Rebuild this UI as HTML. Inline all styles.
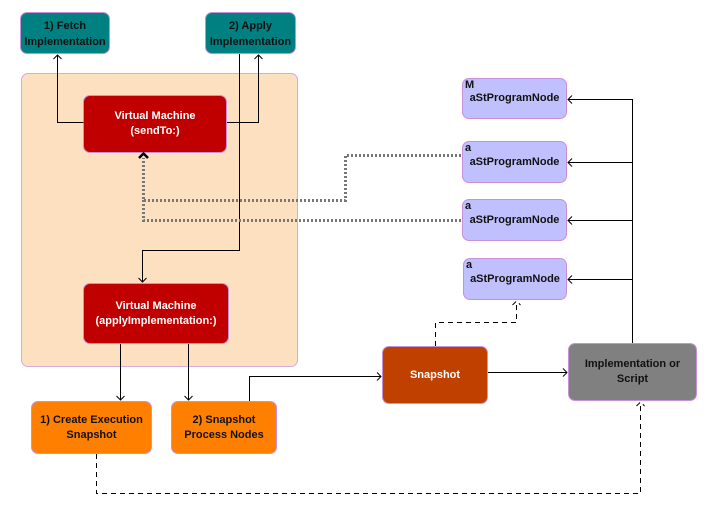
<!DOCTYPE html>
<html><head><style>
body{margin:0;width:709px;height:510px;background:#fff;position:relative;font-family:"Liberation Sans",sans-serif;font-weight:bold;font-size:11px;overflow:hidden}
.b{position:absolute;display:flex;align-items:center;justify-content:center;text-align:center;border:1px solid #c890d8;border-radius:7px;box-sizing:border-box;line-height:15px}
.t{background:#008080;color:#111;line-height:16px;padding-top:2px}
.r{background:#c00000;color:#fff}
.o{background:#ff8000;color:#111}
.n{background:#c0c0ff;color:#111;font-size:11px}
.n i{position:absolute;left:2px;top:-1px;font-style:normal;font-size:11px}
svg{position:absolute;left:0;top:0}
</style></head><body>
<div class="b" style="left:21px;top:73px;width:277px;height:294px;background:#fde0c0;border-color:#d8a8e0"></div>
<div class="b t" style="left:20px;top:12px;width:90px;height:42px">1) Fetch<br>Implementation</div>
<div class="b t" style="left:205px;top:12px;width:91px;height:42px">2) Apply<br>Implementation</div>
<div class="b r" style="left:83px;top:95px;width:144px;height:58px">Virtual Machine<br>(sendTo:)</div>
<div class="b r" style="left:83px;top:283px;width:146px;height:61px">Virtual Machine<br>(applyImplementation:)</div>
<div class="b o" style="left:31px;top:401px;width:121px;height:53px">1) Create Execution<br>Snapshot</div>
<div class="b o" style="left:171px;top:401px;width:106px;height:53px">2) Snapshot<br>Process Nodes</div>
<div class="b" style="left:382px;top:346px;width:106px;height:58px;background:#c04000;color:#fff">Snapshot</div>
<div class="b" style="left:568px;top:343px;width:129px;height:58px;background:#808080;color:#111">Implementation or<br>Script</div>
<div class="b n" style="left:462px;top:78px;width:105px;height:41px"><i>M</i>aStProgramNode</div>
<div class="b n" style="left:462px;top:141px;width:105px;height:42px"><i>a</i>aStProgramNode</div>
<div class="b n" style="left:462px;top:199px;width:105px;height:42px"><i>a</i>aStProgramNode</div>
<div class="b n" style="left:463px;top:258px;width:104px;height:42px"><i>a</i>aStProgramNode</div>
<svg width="709" height="510" fill="none" stroke="#000" stroke-width="1">
<path d="M83.5 122.5H57.5V55M53.5 59L57.5 55L61.5 59"/>
<path d="M227 122.5H258.5V55M254.5 59L258.5 55L262.5 59"/>
<path d="M239.5 54V250.5H142.5V282M138.5 278L142.5 282L146.5 278"/>
<path d="M120.5 344V400M116.5 396L120.5 400L124.5 396"/>
<path d="M188.5 344V400M184.5 396L188.5 400L192.5 396"/>
<path d="M249.5 401V376.5H381M377 372.5L381 376.5L377 380.5"/>
<path d="M488 372.5H567M563 368.5L567 372.5L563 376.5"/>
<path d="M632.5 343V99.5H568M572 95.5L568 99.5L572 103.5M632.5 162.5H568M572 158.5L568 162.5L572 166.5M632.5 220.5H568M572 216.5L568 220.5L572 224.5M632.5 279.5H568M572 275.5L568 279.5L572 283.5"/>
<path d="M435.5 346V322.5H516.5V301M512.5 305L516.5 301L520.5 305" stroke-dasharray="5,4"/>
<path d="M96.5 454V493.5H640.5V402M636.5 406L640.5 402L644.5 406" stroke-dasharray="5,4"/>
<g stroke="#777" stroke-width="3" stroke-dasharray="2,2">
<path d="M461 155.5H345.5V200.5H143.5V158"/>
<path d="M461 220.5H143.5V200"/>
</g>
<path d="M139 158L143.5 153.5L148 158" stroke-width="2.5"/>
</svg>
</body></html>
